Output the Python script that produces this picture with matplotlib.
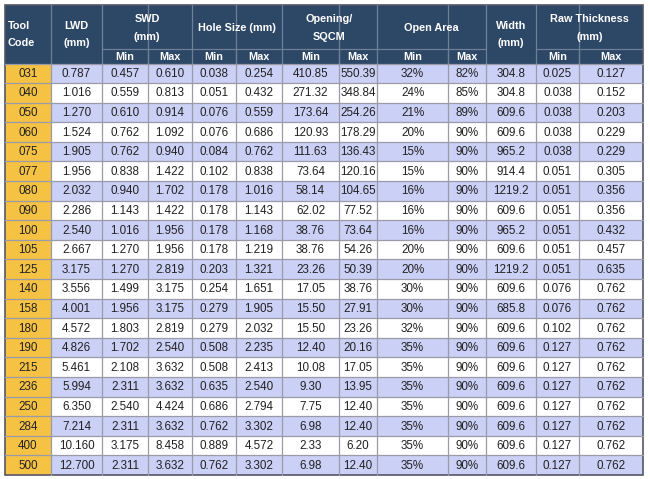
import matplotlib.pyplot as plt
from matplotlib.patches import Rectangle

codes = ["031", "040", "050", "060", "075", "077", "080", "090", "100", "105", "125",
         "140", "158", "180", "190", "215", "236", "250", "284", "400", "500"]
lwd = [0.787, 1.016, 1.270, 1.524, 1.905, 1.956, 2.032, 2.286, 2.540, 2.667, 3.175,
       3.556, 4.001, 4.572, 4.826, 5.461, 5.994, 6.350, 7.214, 10.160, 12.700]
swd_min = [0.457, 0.559, 0.610, 0.762, 0.762, 0.838, 0.940, 1.143, 1.016, 1.270, 1.270,
           1.499, 1.956, 1.803, 1.702, 2.108, 2.311, 2.540, 2.311, 3.175, 2.311]
swd_max = [0.610, 0.813, 0.914, 1.092, 0.940, 1.422, 1.702, 1.422, 1.956, 1.956, 2.819,
           3.175, 3.175, 2.819, 2.540, 3.632, 3.632, 4.424, 3.632, 8.458, 3.632]
hole_min = [0.038, 0.051, 0.076, 0.076, 0.084, 0.102, 0.178, 0.178, 0.178, 0.178, 0.203,
            0.254, 0.279, 0.279, 0.508, 0.508, 0.635, 0.686, 0.762, 0.889, 0.762]
hole_max = [0.254, 0.432, 0.559, 0.686, 0.762, 0.838, 1.016, 1.143, 1.168, 1.219, 1.321,
            1.651, 1.905, 2.032, 2.235, 2.413, 2.540, 2.794, 3.302, 4.572, 3.302]
open_min = [410.85, 271.32, 173.64, 120.93, 111.63, 73.64, 58.14, 62.02, 38.76, 38.76, 23.26,
            17.05, 15.50, 15.50, 12.40, 10.08, 9.30, 7.75, 6.98, 2.33, 6.98]
open_max = [550.39, 348.84, 254.26, 178.29, 136.43, 120.16, 104.65, 77.52, 73.64, 54.26, 50.39,
            38.76, 27.91, 23.26, 20.16, 17.05, 13.95, 12.40, 12.40, 6.20, 12.40]
area_min = [32, 24, 21, 20, 15, 15, 16, 16, 16, 20, 20, 30, 30, 32, 35, 35, 35, 35, 35, 35, 35]
area_max = [82, 85, 89, 90, 90, 90, 90, 90, 90, 90, 90, 90, 90, 90, 90, 90, 90, 90, 90, 90, 90]
width_mm = [304.8, 304.8, 609.6, 609.6, 965.2, 914.4, 1219.2, 609.6, 965.2, 609.6, 1219.2,
            609.6, 685.8, 609.6, 609.6, 609.6, 609.6, 609.6, 609.6, 609.6, 609.6]
raw_min = [0.025, 0.038, 0.038, 0.038, 0.038, 0.051, 0.051, 0.051, 0.051, 0.051, 0.051,
           0.076, 0.076, 0.102, 0.127, 0.127, 0.127, 0.127, 0.127, 0.127, 0.127]
raw_max = [0.127, 0.152, 0.203, 0.229, 0.229, 0.305, 0.356, 0.356, 0.432, 0.457, 0.635,
           0.762, 0.762, 0.762, 0.762, 0.762, 0.762, 0.762, 0.762, 0.762, 0.762]

group_headers = [("SWD\n(mm)", 2, 3), ("Hole Size (mm)", 4, 5), ("Opening/\nSQCM", 6, 7),
                 ("Open Area", 8, 9), ("Raw Thickness\n(mm)", 11, 12)]
single_headers = {0: "Tool\nCode", 1: "LWD\n(mm)", 10: "Width\n(mm)"}

HEADER_BG = "#2d4766"
CODE_BG = "#f5c244"
BAND_BG = "#cbd0f6"
GRID = "#9a9aa8"
TEXT = "#222222"

edges = [5, 51, 102, 148, 192, 236, 282, 339, 377, 448, 486, 536, 579, 643]
top, mid, hdr_bottom, bottom = 5, 49, 63.5, 475


def cells():
    return [
        codes,
        [f"{v:.3f}" for v in lwd],
        [f"{v:.3f}" for v in swd_min],
        [f"{v:.3f}" for v in swd_max],
        [f"{v:.3f}" for v in hole_min],
        [f"{v:.3f}" for v in hole_max],
        [f"{v:.2f}" for v in open_min],
        [f"{v:.2f}" for v in open_max],
        [f"{v}%" for v in area_min],
        [f"{v}%" for v in area_max],
        [f"{v:.1f}" for v in width_mm],
        [f"{v:.3f}" for v in raw_min],
        [f"{v:.3f}" for v in raw_max],
    ]


plt.rcParams["font.family"] = ["Liberation Sans", "DejaVu Sans"]
fig = plt.figure(figsize=(6.5, 4.79), dpi=100)
ax = fig.add_axes([0, 0, 1, 1])
ax.set_xlim(0, 650)
ax.set_ylim(479, 0)
ax.axis("off")

cols = cells()
n = len(codes)
rh = (bottom - hdr_bottom) / n

# header background
ax.add_patch(Rectangle((edges[0], top), edges[-1] - edges[0], hdr_bottom - top,
                       facecolor=HEADER_BG, edgecolor="none"))

for i in range(n):
    y0 = hdr_bottom + i * rh
    bg = BAND_BG if i % 2 == 0 else "white"
    ax.add_patch(Rectangle((edges[1], y0), edges[-1] - edges[1], rh, facecolor=bg, edgecolor="none"))
    ax.add_patch(Rectangle((edges[0], y0), edges[1] - edges[0], rh, facecolor=CODE_BG, edgecolor="none"))
    for j, col in enumerate(cols):
        cx = (edges[j] + edges[j + 1]) / 2
        ax.text(cx, y0 + rh / 2 + 0.5, col[i], ha="center", va="center", fontsize=8.4, color=TEXT)

# body grid lines
for i in range(1, n):
    y = hdr_bottom + i * rh
    ax.plot([edges[0], edges[-1]], [y, y], color=GRID, lw=0.9)
for x in edges[1:-1]:
    ax.plot([x, x], [hdr_bottom, bottom], color=GRID, lw=0.9)

# header lines and labels
hline = "#6f7f98"
for label, a, b in group_headers:
    x0, x1 = edges[a], edges[b + 1]
    ax.text((x0 + x1) / 2, (top + mid) / 2 + 1, label, ha="center", va="center",
            fontsize=7.8, color="white", fontweight="bold", linespacing=1.9)
    ax.plot([x0, x1], [mid, mid], color=hline, lw=0.9)
    ax.plot([edges[a + 1], edges[a + 1]], [mid, hdr_bottom], color=hline, lw=0.9)
    for j in (a, b):
        ax.text((edges[j] + edges[j + 1]) / 2, (mid + hdr_bottom) / 2 + 1,
                "Min" if j == a else "Max", ha="center", va="center",
                fontsize=7.8, color="white", fontweight="bold")
for j, label in single_headers.items():
    x0, x1 = edges[j], edges[j + 1]
    if j == 0:
        ax.text(x0 + 3, (top + hdr_bottom) / 2, label, ha="left", va="center",
                fontsize=7.8, color="white", fontweight="bold", linespacing=1.9)
    else:
        ax.text((x0 + x1) / 2, (top + hdr_bottom) / 2, label, ha="center", va="center",
                fontsize=7.8, color="white", fontweight="bold", linespacing=1.9)
for x in edges[1:-1]:
    ax.plot([x, x], [top, hdr_bottom], color=hline, lw=0.9)
ax.plot([edges[0], edges[-1]], [hdr_bottom, hdr_bottom], color=GRID, lw=0.9)

# outer border
ax.add_patch(Rectangle((edges[0], top), edges[-1] - edges[0], bottom - top,
                       facecolor="none", edgecolor="#555566", lw=1.2))

fig.savefig("out.png", dpi=100)
